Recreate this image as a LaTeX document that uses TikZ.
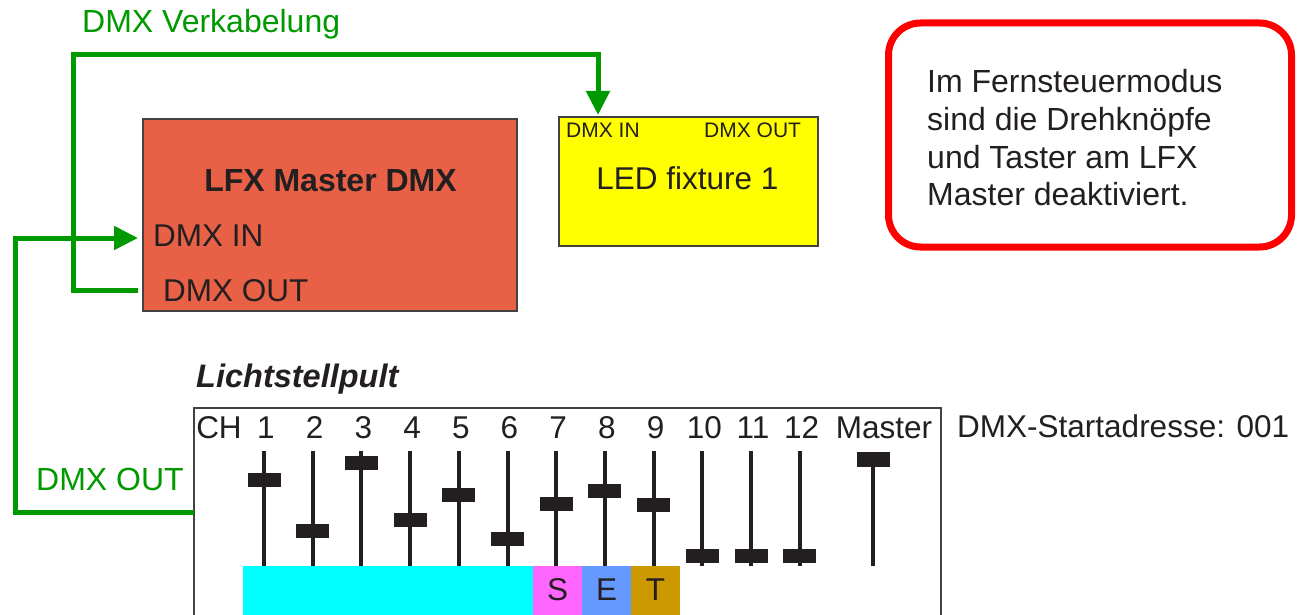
\documentclass[tikz,border=0pt]{standalone}
\usepackage{fontspec}
\setmainfont{Liberation Sans}
\usetikzlibrary{arrows.meta}
\definecolor{lfxred}{RGB}{232,96,70}
\definecolor{dmxgreen}{RGB}{0,153,0}
\definecolor{ink}{RGB}{35,31,32}
\definecolor{setS}{RGB}{255,102,255}
\definecolor{setE}{RGB}{102,153,255}
\definecolor{setT}{RGB}{204,153,0}
\definecolor{setC}{RGB}{0,255,255}
\definecolor{ledyellow}{RGB}{255,255,0}
\begin{document}
\begin{tikzpicture}[x=1pt,y=-1pt,
  big/.style={font=\fontsize{31.5}{36}\selectfont, text=ink, inner sep=0pt},
  note/.style={font=\fontsize{32}{37}\selectfont, text=ink, inner sep=0pt, anchor=base west},
  small/.style={font=\fontsize{21}{24}\selectfont, text=ink, inner sep=0pt},
  greentext/.style={font=\fontsize{32}{36}\selectfont, text=dmxgreen, inner sep=0pt},
  cable/.style={draw=dmxgreen, line width=5pt},
  tipped/.style={-{Triangle[length=24pt,width=23pt]}},
  slider/.style={draw=ink, line width=4pt},
  knob/.style={fill=ink, draw=none, minimum width=33pt, minimum height=14pt, inner sep=0pt},
  frame/.style={draw=ink!85, line width=1.2pt},
  bar/.style={draw=none, inner sep=0pt, minimum width=49pt, minimum height=49pt, font=\fontsize{31.5}{36}\selectfont, text=ink}]
\useasboundingbox (0,0) rectangle (1305,615);

% LFX Master box
\node[frame, fill=lfxred, minimum width=374pt, minimum height=192pt, inner sep=0pt] (lfx) at (330,215) {};
\node[big, font=\fontsize{32}{36}\selectfont\bfseries, anchor=base] (lfxtitle) at (330.5,191) {LFX Master DMX};
\node[big, anchor=base west] (lfxin) at (153,246) {DMX IN};
\node[big, anchor=base west] (lfxout) at (163,301) {DMX OUT};

% LED fixture
\node[frame, fill=ledyellow, minimum width=259pt, minimum height=129pt, inner sep=0pt] (led) at (688.5,181.5) {};
\node[small, anchor=base west] (ledinlabel) at (566,137) {DMX IN};
\node[small, anchor=base west] (ledoutlabel) at (704,137) {DMX OUT};
\node[big, anchor=base] (ledname) at (687.5,189) {LED fixture 1};

% note box
\node[draw=red, line width=7pt, rounded corners=32pt, minimum width=403pt, minimum height=224pt, inner sep=0pt] (notebox) at (1090,135) {};
\node[note] (n1) at (927,93) {Im Fernsteuermodus};
\node[note] (n2) at (927,130) {sind die Drehknöpfe};
\node[note] (n3) at (927,168) {und Taster am LFX};
\node[note] (n4) at (927,205) {Master deaktiviert.};

% labels
\node[greentext, anchor=base west] (cablelabel) at (82,33) {DMX Verkabelung};
\node[greentext, anchor=base west] (outlabel) at (36,490) {DMX OUT};
\node[big, font=\fontsize{32.5}{36}\selectfont\bfseries\itshape, anchor=base west] (pulttitle) at (196,387) {Lichtstellpult};
\node[big, anchor=base west] (startaddr) at (957,437) {DMX-Startadresse: 001};

% console
\node[frame, minimum width=747pt, minimum height=240pt, inner sep=0pt] (pult) at (567.5,528) {};
\node[big, anchor=base] (chlabel) at (219,438) {CH};

% colored bars
\node[bar, fill=setC, minimum width=290pt, anchor=north west] (cyanbar) at (243,566) {};
\node[bar, fill=setS, anchor=north west] (sbar) at (533,566) {};
\node[bar, fill=setE, anchor=north west] (ebar) at (582,566) {};
\node[bar, fill=setT, anchor=north west] (tbar) at (631,566) {};
\node[big, anchor=base] (sl) at (557.5,600) {S};
\node[big, anchor=base] (el) at (606.5,600) {E};
\node[big, anchor=base] (tl) at (655.5,600) {T};

% sliders
\foreach \i/\k in {1/480,2/531,3/463,4/520,5/495,6/539,7/504,8/491,9/505,10/556,11/556,12/556}{
  \pgfmathsetmacro{\xx}{264+48.7*(\i-1)}
  \draw[slider] (\xx,451) -- (\xx,566);
  \node[knob] (knob\i) at (\xx,\k) {};
  \node[big, anchor=base] (lab\i) at (\xx+2,438) {\i};
}
\draw[slider] (873,452) -- (873,566);
\node[knob, minimum height=15pt] (knobm) at (873,459.5) {};
\node[big, anchor=base] (labm) at (884,438) {Master};

% cables
\coordinate (outport) at (138,290);
\coordinate (ledin) at (598,115);
\coordinate (pultout) at (194,512);
\coordinate (inport) at (138,238);
\draw[cable, tipped] (outport) -| (73,55) -| (ledin);
\draw[cable, tipped] (pultout) -| (15,238) -- (inport);
\end{tikzpicture}
\end{document}
